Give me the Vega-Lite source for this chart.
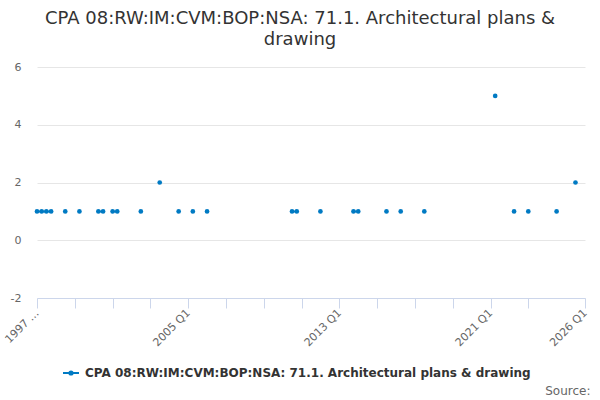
{
  "$schema": "https://vega.github.io/schema/vega-lite/v6.json",
  "width": 548,
  "height": 231,
  "autosize": "none",
  "padding": {"left": 37, "top": 67, "right": 15, "bottom": 102},
  "background": "#ffffff",
  "title": {
    "text": ["CPA 08:RW:IM:CVM:BOP:NSA: 71.1. Architectural plans &", "drawing"],
    "anchor": "middle",
    "frame": "group",
    "dx": -11,
    "offset": 12,
    "font": "DejaVu Sans",
    "fontSize": 18,
    "fontWeight": "normal",
    "color": "#333333",
    "lineHeight": 21
  },
  "config": {
    "view": {"stroke": null},
    "font": "DejaVu Sans"
  },
  "data": {
    "values": [
      {"quarter": "1997-01-01", "value": 1}, {"quarter": "1997-04-01", "value": 1}, {"quarter": "1997-07-01", "value": 1}, {"quarter": "1997-10-01", "value": 1},
      {"quarter": "1998-01-01", "value": null}, {"quarter": "1998-04-01", "value": null}, {"quarter": "1998-07-01", "value": 1}, {"quarter": "1998-10-01", "value": null},
      {"quarter": "1999-01-01", "value": null}, {"quarter": "1999-04-01", "value": 1}, {"quarter": "1999-07-01", "value": null}, {"quarter": "1999-10-01", "value": null},
      {"quarter": "2000-01-01", "value": null}, {"quarter": "2000-04-01", "value": 1}, {"quarter": "2000-07-01", "value": 1}, {"quarter": "2000-10-01", "value": null},
      {"quarter": "2001-01-01", "value": 1}, {"quarter": "2001-04-01", "value": 1}, {"quarter": "2001-07-01", "value": null}, {"quarter": "2001-10-01", "value": null},
      {"quarter": "2002-01-01", "value": null}, {"quarter": "2002-04-01", "value": null}, {"quarter": "2002-07-01", "value": 1}, {"quarter": "2002-10-01", "value": null},
      {"quarter": "2003-01-01", "value": null}, {"quarter": "2003-04-01", "value": null}, {"quarter": "2003-07-01", "value": 2}, {"quarter": "2003-10-01", "value": null},
      {"quarter": "2004-01-01", "value": null}, {"quarter": "2004-04-01", "value": null}, {"quarter": "2004-07-01", "value": 1}, {"quarter": "2004-10-01", "value": null},
      {"quarter": "2005-01-01", "value": null}, {"quarter": "2005-04-01", "value": 1}, {"quarter": "2005-07-01", "value": null}, {"quarter": "2005-10-01", "value": null},
      {"quarter": "2006-01-01", "value": 1}, {"quarter": "2006-04-01", "value": null}, {"quarter": "2006-07-01", "value": null}, {"quarter": "2006-10-01", "value": null},
      {"quarter": "2007-01-01", "value": null}, {"quarter": "2007-04-01", "value": null}, {"quarter": "2007-07-01", "value": null}, {"quarter": "2007-10-01", "value": null},
      {"quarter": "2008-01-01", "value": null}, {"quarter": "2008-04-01", "value": null}, {"quarter": "2008-07-01", "value": null}, {"quarter": "2008-10-01", "value": null},
      {"quarter": "2009-01-01", "value": null}, {"quarter": "2009-04-01", "value": null}, {"quarter": "2009-07-01", "value": null}, {"quarter": "2009-10-01", "value": null},
      {"quarter": "2010-01-01", "value": null}, {"quarter": "2010-04-01", "value": null}, {"quarter": "2010-07-01", "value": 1}, {"quarter": "2010-10-01", "value": 1},
      {"quarter": "2011-01-01", "value": null}, {"quarter": "2011-04-01", "value": null}, {"quarter": "2011-07-01", "value": null}, {"quarter": "2011-10-01", "value": null},
      {"quarter": "2012-01-01", "value": 1}, {"quarter": "2012-04-01", "value": null}, {"quarter": "2012-07-01", "value": null}, {"quarter": "2012-10-01", "value": null},
      {"quarter": "2013-01-01", "value": null}, {"quarter": "2013-04-01", "value": null}, {"quarter": "2013-07-01", "value": null}, {"quarter": "2013-10-01", "value": 1},
      {"quarter": "2014-01-01", "value": 1}, {"quarter": "2014-04-01", "value": null}, {"quarter": "2014-07-01", "value": null}, {"quarter": "2014-10-01", "value": null},
      {"quarter": "2015-01-01", "value": null}, {"quarter": "2015-04-01", "value": null}, {"quarter": "2015-07-01", "value": 1}, {"quarter": "2015-10-01", "value": null},
      {"quarter": "2016-01-01", "value": null}, {"quarter": "2016-04-01", "value": 1}, {"quarter": "2016-07-01", "value": null}, {"quarter": "2016-10-01", "value": null},
      {"quarter": "2017-01-01", "value": null}, {"quarter": "2017-04-01", "value": null}, {"quarter": "2017-07-01", "value": 1}, {"quarter": "2017-10-01", "value": null},
      {"quarter": "2018-01-01", "value": null}, {"quarter": "2018-04-01", "value": null}, {"quarter": "2018-07-01", "value": null}, {"quarter": "2018-10-01", "value": null},
      {"quarter": "2019-01-01", "value": null}, {"quarter": "2019-04-01", "value": null}, {"quarter": "2019-07-01", "value": null}, {"quarter": "2019-10-01", "value": null},
      {"quarter": "2020-01-01", "value": null}, {"quarter": "2020-04-01", "value": null}, {"quarter": "2020-07-01", "value": null}, {"quarter": "2020-10-01", "value": null},
      {"quarter": "2021-01-01", "value": null}, {"quarter": "2021-04-01", "value": 5}, {"quarter": "2021-07-01", "value": null}, {"quarter": "2021-10-01", "value": null},
      {"quarter": "2022-01-01", "value": null}, {"quarter": "2022-04-01", "value": 1}, {"quarter": "2022-07-01", "value": null}, {"quarter": "2022-10-01", "value": null},
      {"quarter": "2023-01-01", "value": 1}, {"quarter": "2023-04-01", "value": null}, {"quarter": "2023-07-01", "value": null}, {"quarter": "2023-10-01", "value": null},
      {"quarter": "2024-01-01", "value": null}, {"quarter": "2024-04-01", "value": null}, {"quarter": "2024-07-01", "value": 1}, {"quarter": "2024-10-01", "value": null},
      {"quarter": "2025-01-01", "value": null}, {"quarter": "2025-04-01", "value": null}, {"quarter": "2025-07-01", "value": 2}
    ]
  },
  "mark": {
    "type": "line",
    "strokeWidth": 2,
    "point": {"filled": true, "size": 22, "opacity": 1}
  },
  "encoding": {
    "x": {
      "field": "quarter",
      "type": "temporal",
      "scale": {
        "type": "utc",
        "domain": [
          {"year": 1997, "month": 1, "date": 1, "utc": true},
          {"year": 2026, "month": 1, "date": 1, "utc": true}
        ]
      },
      "axis": {
        "values": [
          {"year": 1997, "month": 1, "date": 1, "utc": true},
          {"year": 1999, "month": 1, "date": 1, "utc": true},
          {"year": 2001, "month": 1, "date": 1, "utc": true},
          {"year": 2003, "month": 1, "date": 1, "utc": true},
          {"year": 2005, "month": 1, "date": 1, "utc": true},
          {"year": 2007, "month": 1, "date": 1, "utc": true},
          {"year": 2009, "month": 1, "date": 1, "utc": true},
          {"year": 2011, "month": 1, "date": 1, "utc": true},
          {"year": 2013, "month": 1, "date": 1, "utc": true},
          {"year": 2015, "month": 1, "date": 1, "utc": true},
          {"year": 2017, "month": 1, "date": 1, "utc": true},
          {"year": 2019, "month": 1, "date": 1, "utc": true},
          {"year": 2021, "month": 1, "date": 1, "utc": true},
          {"year": 2023, "month": 1, "date": 1, "utc": true},
          {"year": 2026, "month": 1, "date": 1, "utc": true}
        ],
        "labelExpr": "utcyear(datum.value) == 1997 ? '1997 …' : (utcyear(datum.value) == 2005 || utcyear(datum.value) == 2013 || utcyear(datum.value) == 2021 || utcyear(datum.value) == 2026) ? utcyear(datum.value) + ' Q1' : ''",
        "grid": false,
        "domainColor": "#ccd6eb",
        "tickColor": "#ccd6eb",
        "tickSize": 10,
        "labelAngle": -45,
        "labelAlign": "right",
        "labelBaseline": "middle",
        "labelPadding": 3,
        "labelFont": "DejaVu Sans",
        "labelFontSize": 11,
        "labelColor": "#666666",
        "labelOverlap": false,
        "labelBound": false,
        "labelFlush": false,
        "title": "Source:",
        "titleFont": "DejaVu Sans",
        "titleFontSize": 12,
        "titleFontWeight": "normal",
        "titleColor": "#666666",
        "titleAnchor": null,
        "titleAlign": "right",
        "titleBaseline": "middle",
        "titleX": 553,
        "titleY": 92
      }
    },
    "y": {
      "field": "value",
      "type": "quantitative",
      "scale": {"domain": [-2, 6], "nice": false, "zero": false},
      "axis": {
        "values": [-2, 0, 2, 4, 6],
        "labelExpr": "'' + datum.value",
        "title": null,
        "domain": false,
        "ticks": false,
        "gridColor": "#e6e6e6",
        "labelFont": "DejaVu Sans",
        "labelFontSize": 11,
        "labelColor": "#666666",
        "labelPadding": 16
      }
    },
    "color": {
      "datum": "CPA 08:RW:IM:CVM:BOP:NSA: 71.1. Architectural plans & drawing",
      "scale": {"range": ["#007ac3"]},
      "legend": {
        "title": null,
        "orient": "none",
        "legendX": 25,
        "legendY": 297,
        "padding": 0,
        "symbolType": "M-1,0L1,0M-0.2,0A0.2,0.2 0 1,0 0.2,0A0.2,0.2 0 1,0 -0.2,0",
        "symbolSize": 256,
        "symbolStrokeWidth": 2,
        "symbolStrokeColor": "#007ac3",
        "symbolFillColor": "#007ac3",
        "labelFont": "DejaVu Sans",
        "labelFontSize": 12,
        "labelFontWeight": "bold",
        "labelColor": "#333333",
        "labelOffset": 5,
        "labelLimit": 0
      }
    }
  }
}
